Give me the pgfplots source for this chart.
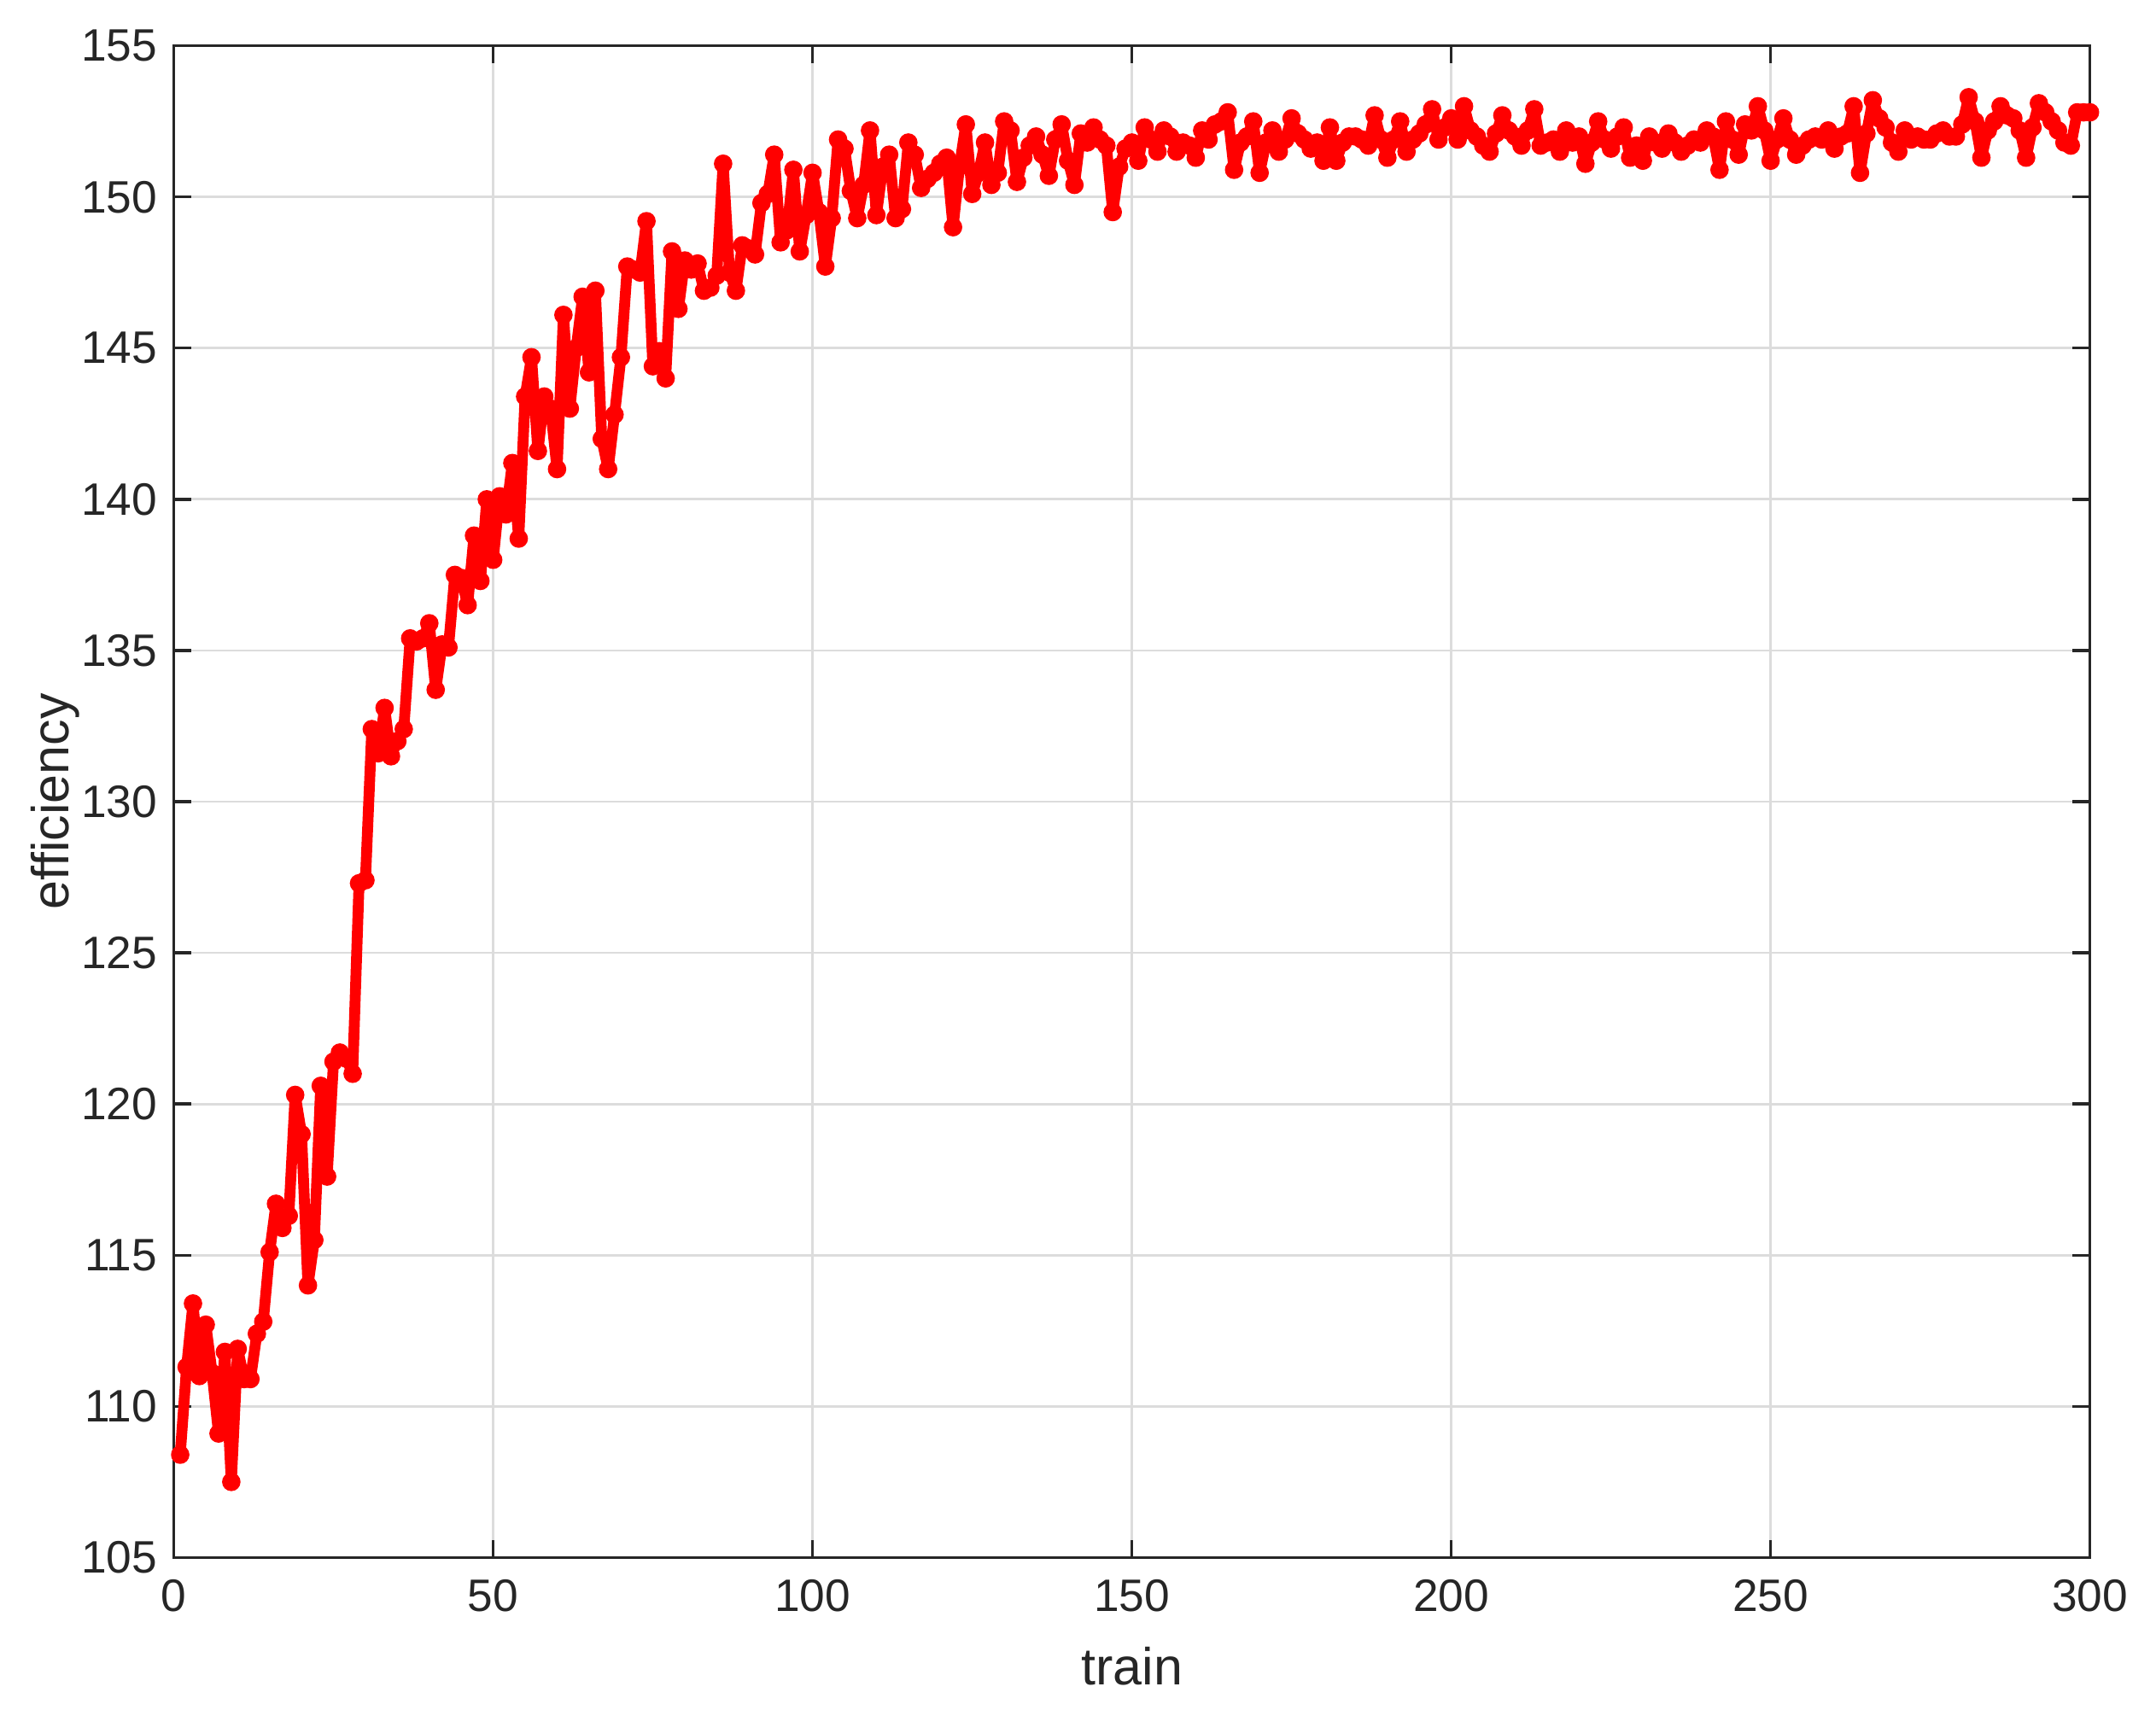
\documentclass[border=0pt]{standalone}
\usepackage{fontspec}
\setmainfont{Liberation Sans}
\usepackage{pgfplots}
\pgfplotsset{compat=1.18}
\usepackage{pgfplotstable}

\definecolor{axgray}{HTML}{262626}
\definecolor{gridgray}{HTML}{DCDCDC}

\pgfplotstableread{
x y
1 108.4
2 111.3
3 113.4
4 111.0
5 112.7
6 111.1
7 109.1
8 111.8
9 107.5
10 111.9
11 110.9
12 110.9
13 112.4
14 112.8
15 115.1
16 116.7
17 115.9
18 116.3
19 120.3
20 119.0
21 114.0
22 115.5
23 120.6
24 117.6
25 121.4
26 121.7
27 121.5
28 121.0
29 127.3
30 127.4
31 132.4
32 131.6
33 133.1
34 131.5
35 132.0
36 132.4
37 135.4
38 135.3
39 135.4
40 135.9
41 133.7
42 135.2
43 135.1
44 137.5
45 137.4
46 136.5
47 138.8
48 137.3
49 140.0
50 138.0
51 140.1
52 139.5
53 141.2
54 138.7
55 143.4
56 144.7
57 141.6
58 143.4
59 143.0
60 141.0
61 146.1
62 143.0
63 145.0
64 146.7
65 144.2
66 146.9
67 142.0
68 141.0
69 142.8
70 144.7
71 147.7
72 147.6
73 147.5
74 149.2
75 144.4
76 144.9
77 144.0
78 148.2
79 146.3
80 147.9
81 147.6
82 147.8
83 146.9
84 147.0
85 147.4
86 151.1
87 147.5
88 146.9
89 148.4
90 148.3
91 148.1
92 149.8
93 150.1
94 151.4
95 148.5
96 148.9
97 150.9
98 148.2
99 149.4
100 150.8
101 149.5
102 147.7
103 149.3
104 151.9
105 151.6
106 150.2
107 149.3
108 150.4
109 152.2
110 149.4
111 151.0
112 151.4
113 149.3
114 149.6
115 151.8
116 151.4
117 150.3
118 150.6
119 150.8
120 151.1
121 151.3
122 149.0
123 151.0
124 152.4
125 150.1
126 150.8
127 151.8
128 150.4
129 150.8
130 152.5
131 152.2
132 150.5
133 151.3
134 151.7
135 152.0
136 151.4
137 150.7
138 151.9
139 152.4
140 151.2
141 150.4
142 152.1
143 151.8
144 152.3
145 151.9
146 151.7
147 149.5
148 151.0
149 151.6
150 151.8
151 151.2
152 152.3
153 151.9
154 151.5
155 152.2
156 152.0
157 151.5
158 151.8
159 151.7
160 151.3
161 152.2
162 151.9
163 152.4
164 152.5
165 152.8
166 150.9
167 151.8
168 152.0
169 152.5
170 150.8
171 151.8
172 152.2
173 151.5
174 151.9
175 152.6
176 152.1
177 151.9
178 151.6
179 151.8
180 151.2
181 152.3
182 151.2
183 151.8
184 152.0
185 152.0
186 151.9
187 151.7
188 152.7
189 151.9
190 151.3
191 151.9
192 152.5
193 151.5
194 151.9
195 152.1
196 152.4
197 152.9
198 151.9
199 152.3
200 152.6
201 151.9
202 153.0
203 152.2
204 152.0
205 151.7
206 151.5
207 152.1
208 152.7
209 152.2
210 152.0
211 151.7
212 152.2
213 152.9
214 151.7
215 151.8
216 151.9
217 151.5
218 152.2
219 151.8
220 152.0
221 151.1
222 151.8
223 152.5
224 151.9
225 151.6
226 152.0
227 152.3
228 151.3
229 151.7
230 151.2
231 152.0
232 151.8
233 151.6
234 152.1
235 151.8
236 151.5
237 151.7
238 151.9
239 151.8
240 152.2
241 152.0
242 150.9
243 152.5
244 151.9
245 151.4
246 152.4
247 152.2
248 153.0
249 152.2
250 151.2
251 151.9
252 152.6
253 151.9
254 151.4
255 151.7
256 151.9
257 152.0
258 151.9
259 152.2
260 151.6
261 152.0
262 152.1
263 153.0
264 150.8
265 152.1
266 153.2
267 152.6
268 152.3
269 151.8
270 151.5
271 152.2
272 151.9
273 152.0
274 151.9
275 151.9
276 152.1
277 152.2
278 152.0
279 152.0
280 152.4
281 153.3
282 152.5
283 151.3
284 152.2
285 152.5
286 153.0
287 152.7
288 152.6
289 152.2
290 151.3
291 152.3
292 153.1
293 152.8
294 152.5
295 152.2
296 151.8
297 151.7
298 152.8
299 152.8
300 152.8
}\efficiencydata

\begin{document}
\begin{tikzpicture}
  \begin{axis}[
      at={(0,0)}, anchor=south west,
      scale only axis,
      width=14.22cm,
      height=11.22cm,
      xmin=0, xmax=300,
      ymin=105, ymax=155,
      xtick={0,50,...,300},
      ytick={105,110,...,155},
      xlabel={train},
      ylabel={efficiency},
      grid=major,
      major grid style={gridgray, line width=0.5pt},
      axis line style={axgray, line width=0.6pt},
      tick style={axgray, line width=0.6pt},
      tick align=inside,
      major tick length=0.13cm,
      ticklabel style={font=\fontsize{9.6}{11}\selectfont, text=axgray},
      label style={font=\fontsize{11}{13}\selectfont, text=axgray},
      xticklabel style={yshift=-0.04cm},
      /pgf/number format/assume math mode=true,
      xlabel style={yshift=-0.02cm},
      ylabel style={yshift=-0.23cm},
    ]
    \addplot[red, line width=2.3pt, line join=round, mark=*, mark size=1.8pt,
      mark options={fill=red, draw=red, line width=0.3pt}]
      table[x=x, y=y] {\efficiencydata};
  \end{axis}
  \pgfresetboundingbox
  \path[use as bounding box] (-1.29cm,-1.13cm) rectangle (14.71cm,11.56cm);
\end{tikzpicture}
\end{document}
